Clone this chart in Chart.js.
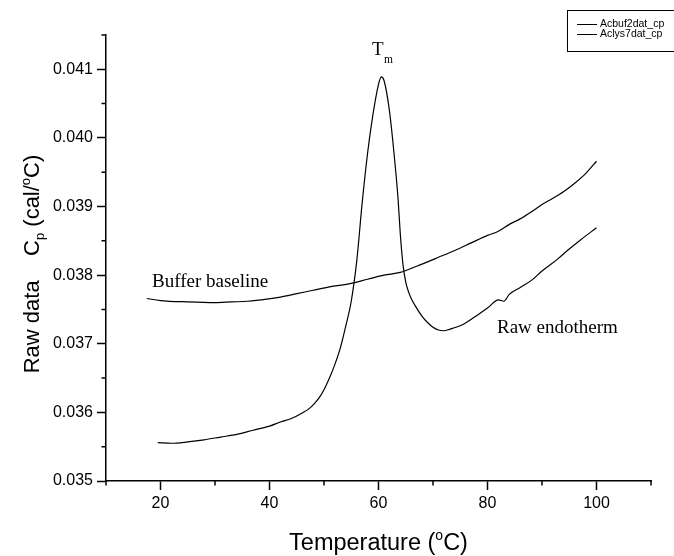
<!DOCTYPE html>
<html>
<head>
<meta charset="utf-8">
<script src="https://cdn.jsdelivr.net/npm/chart.js@4/dist/chart.umd.min.js"></script>
<style>
  body { margin: 0; background: #fff; }
  canvas { display: block; }
</style>
</head>
<body>
<canvas id="dscChart" width="674" height="556"></canvas>
<script>
// values
const seriesNames = ['Acbuf2dat_cp', 'Aclys7dat_cp'];

const bufferT = [17.5, 20, 25, 30, 33, 36, 39.5, 42, 45, 48, 51, 55, 58, 61, 64, 67, 71, 74, 77, 80, 82, 84, 86, 88, 90, 92, 94, 96, 98, 100];
const bufferCp = [0.03766, 0.03763, 0.03761, 0.03760, 0.03761, 0.03762, 0.03765, 0.03768, 0.03773, 0.03778, 0.03783, 0.03788, 0.03794, 0.03800, 0.03804,
    0.03813, 0.03826, 0.03836, 0.03847, 0.03858, 0.03864, 0.03874, 0.03882, 0.03892, 0.03903, 0.03912, 0.03922, 0.03934, 0.03948, 0.03966];

const rawT = [19.5, 22, 25, 28, 31, 34, 37, 40, 42, 44, 46, 47.5, 49, 50, 51, 52, 53, 54, 55, 56, 57, 58, 59, 60, 60.5, 61, 62, 63, 63.6, 64, 64.5,
    65, 65.5, 66, 67, 68, 69, 70, 71, 72, 73, 75.5, 78, 80, 82, 83, 84, 86, 88, 90, 92.8, 95, 97, 100];
const rawCp = [0.03556, 0.03555, 0.03557, 0.03560, 0.03564, 0.03568, 0.03574, 0.03580, 0.03586, 0.03591, 0.03599, 0.03607, 0.03620, 0.03633,
    0.03650, 0.03670, 0.03694, 0.03726, 0.03762, 0.03820, 0.03905, 0.03978, 0.04035, 0.04078, 0.04089, 0.04084, 0.04040, 0.03965, 0.03910,
    0.03860, 0.03815, 0.03790, 0.03776, 0.03766, 0.03752, 0.03740, 0.03731, 0.03724, 0.03720, 0.03719, 0.03721, 0.03728, 0.03741, 0.03752,
    0.03764, 0.03762, 0.03772, 0.03782, 0.03792, 0.03806, 0.03823, 0.03838, 0.03851, 0.03869];

const xMajor = [20, 40, 60, 80, 100];
const xMinor = [10, 30, 50, 70, 90, 110];
const yMajor = [0.035, 0.036, 0.037, 0.038, 0.039, 0.040, 0.041];
const yMinor = [0.0355, 0.0365, 0.0375, 0.0385, 0.0395, 0.0405, 0.0415];

const SANS = "'Liberation Sans', Arial, sans-serif";
const SERIF = "'Liberation Serif', 'Times New Roman', serif";

function toPoints(xs, ys) {
    return xs.map((x, i) => ({ x: x, y: ys[i] }));
}

// draw a run of text pieces (for sub/superscripts), centered on x
function drawRich(ctx, parts, x, y) {
    let total = 0;
    parts.forEach(p => {
        ctx.font = p.size + 'px ' + p.family;
        p.w = ctx.measureText(p.t).width;
        total += p.w;
    });
    let cx = x - total / 2;
    parts.forEach(p => {
        ctx.font = p.size + 'px ' + p.family;
        ctx.fillText(p.t, cx, y + (p.dy || 0));
        cx += p.w;
    });
}

const decorPlugin = {
    id: 'decor',
    afterDraw(chart) {
        const ctx = chart.ctx;
        const xs = chart.scales.x;
        const ys = chart.scales.y;
        const area = chart.chartArea;
        ctx.save();
        ctx.strokeStyle = '#000';
        ctx.fillStyle = '#000';

        // minor ticks
        ctx.lineWidth = 1.5;
        ctx.beginPath();
        xMinor.forEach(v => {
            const px = xs.getPixelForValue(v);
            ctx.moveTo(px, area.bottom);
            ctx.lineTo(px, area.bottom + 4.5);
        });
        yMinor.forEach(v => {
            const py = ys.getPixelForValue(v);
            ctx.moveTo(area.left, py);
            ctx.lineTo(area.left - 4.5, py);
        });
        ctx.stroke();

        // axis titles
        ctx.textBaseline = 'alphabetic';
        drawRich(ctx, [
            { t: 'Temperature (', size: 23.5, family: SANS },
            { t: 'o', size: 14, family: SANS, dy: -10 },
            { t: 'C)', size: 23.5, family: SANS }
        ], (area.left + area.right) / 2, 550);

        ctx.save();
        ctx.translate(39, 264);
        ctx.rotate(-Math.PI / 2);
        drawRich(ctx, [
            { t: 'Raw data    C', size: 22, family: SANS },
            { t: 'p', size: 13, family: SANS, dy: 5 },
            { t: ' (cal/', size: 22, family: SANS },
            { t: 'o', size: 13, family: SANS, dy: -9 },
            { t: 'C)', size: 22, family: SANS }
        ], 0, 0);
        ctx.restore();

        // curve annotations
        ctx.textAlign = 'left';
        ctx.font = '19px ' + SERIF;
        ctx.fillText('Buffer baseline', 152, 287);
        ctx.fillText('Raw endotherm', 497, 333);
        ctx.fillText('T', 372, 55);
        ctx.font = '11.5px ' + SERIF;
        ctx.fillText('m', 384, 63);

        // legend box
        ctx.lineWidth = 1;
        ctx.strokeRect(567.5, 10.5, 110, 41);
        ctx.font = '10.5px ' + SANS;
        ctx.textBaseline = 'middle';
        seriesNames.forEach((name, i) => {
            const ly = 24.5 + i * 10;
            ctx.beginPath();
            ctx.moveTo(577, ly);
            ctx.lineTo(597, ly);
            ctx.stroke();
            ctx.fillText(name, 600, ly);
        });
        ctx.restore();
    }
};

const ctx = document.getElementById('dscChart');

new Chart(ctx, {
    type: 'scatter',
    data: {
        datasets: [
            { label: seriesNames[0], data: toPoints(bufferT, bufferCp) },
            { label: seriesNames[1], data: toPoints(rawT, rawCp) }
        ]
    },
    options: {
        responsive: false,
        devicePixelRatio: 1,
        animation: false,
        showLine: true,
        layout: { padding: { left: 0, right: 23, top: 35, bottom: 0 } },
        elements: {
            point: { radius: 0 },
            line: { borderColor: '#000', borderWidth: 1.2, cubicInterpolationMode: 'monotone', fill: false }
        },
        plugins: {
            legend: { display: false },
            tooltip: { enabled: false }
        },
        scales: {
            x: {
                type: 'linear',
                min: 10,
                max: 110,
                afterBuildTicks: (s) => { s.ticks = xMajor.map(v => ({ value: v })); },
                afterFit: (s) => { s.height = 75; },
                grid: { drawOnChartArea: false, tickLength: 9, tickColor: '#000', tickWidth: 1.5 },
                border: { color: '#000', width: 1.5 },
                ticks: { color: '#000', font: { family: SANS, size: 16 }, padding: 4, maxRotation: 0 }
            },
            y: {
                type: 'linear',
                min: 0.035,
                max: 0.0415,
                afterBuildTicks: (s) => { s.ticks = yMajor.map(v => ({ value: v })); },
                afterFit: (s) => { s.width = 106; },
                grid: { drawOnChartArea: false, tickLength: 9, tickColor: '#000', tickWidth: 1.5 },
                border: { color: '#000', width: 1.5 },
                ticks: {
                    color: '#000',
                    font: { family: SANS, size: 16 },
                    padding: 4,
                    callback: (v) => v.toFixed(3)
                }
            }
        }
    },
    plugins: [decorPlugin]
});
</script>
</body>
</html>
